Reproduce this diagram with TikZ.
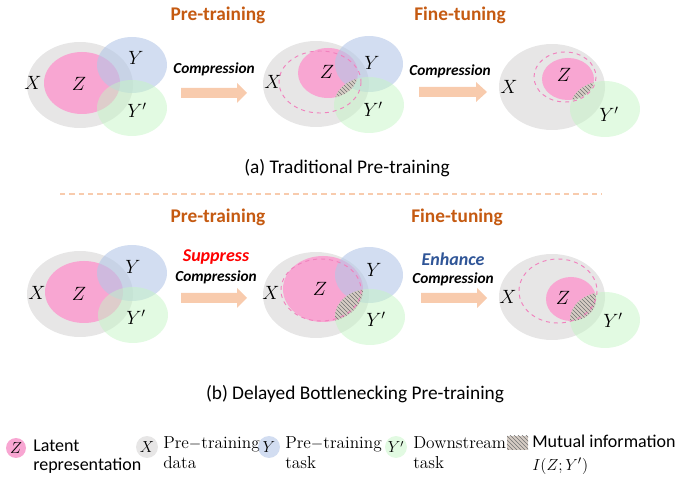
\documentclass[tikz,border=0pt]{standalone}
\usepackage{fontspec}
\newfontfamily\cali{Carlito}
\usetikzlibrary{patterns}
\definecolor{xgray}{RGB}{231,230,230}
\definecolor{zpink}{RGB}{248,166,210}
\definecolor{yblue}{RGB}{180,199,231}
\definecolor{ypgreen}{RGB}{197,245,197}
\definecolor{phase}{RGB}{197,90,17}
\definecolor{peach}{RGB}{248,203,173}
\definecolor{mifill}{RGB}{214,204,196}
\definecolor{enh}{RGB}{47,85,151}
\definecolor{shrinkpink}{RGB}{241,130,190}

\begin{document}
\begin{tikzpicture}[x=0.75pt,y=-0.75pt,
    xset/.style={fill=xgray},
    zset/.style={fill=zpink},
    yset/.style={fill=yblue,fill opacity=0.6},
    ypset/.style={fill=ypgreen,fill opacity=0.5},
    mi/.style={fill=mifill,postaction={pattern=north west lines,pattern color=black!55}},
    shrink/.style={draw=shrinkpink,dashed,line width=0.7pt},
    lbl/.style={font=\fontsize{14}{16}\selectfont,inner sep=0pt},
    phasetxt/.style={font=\cali\bfseries\fontsize{14.5}{17}\selectfont,text=phase,anchor=base},
    comptxt/.style={font=\cali\bfseries\itshape\fontsize{11.5}{13}\selectfont,anchor=base},
    modetxt/.style={font=\cali\bfseries\itshape\fontsize{13.5}{16}\selectfont,anchor=base},
    captxt/.style={font=\cali\fontsize{14.5}{17}\selectfont,anchor=base},
    legsans/.style={font=\cali\fontsize{13.5}{16}\selectfont,anchor=base west,inner sep=0pt},
    legserif/.style={font=\fontsize{13}{16}\selectfont,anchor=base west,inner sep=0pt},
    legsym/.style={font=\fontsize{12}{14}\selectfont,inner sep=0pt},
    blockarrow/.style={fill=peach}]
    \useasboundingbox (0,0) rectangle (676,481);
    % (a) traditional pre-training
    \coordinate(X1) at (80,85);  \coordinate(Z1) at (82,83);
    \coordinate(Y1) at (132,65); \coordinate(P1) at (132,108);
    \fill[xset](X1) ellipse [x radius=53,y radius=43];
    \fill[zset](Z1) ellipse [x radius=38,y radius=31];
    \fill[yset](Y1) ellipse [x radius=35,y radius=28];
    \fill[ypset](P1) ellipse [x radius=35,y radius=28];
    \node[lbl](x1) at (33,83) {$X$};
    \node[lbl](z1) at (79,84) {$Z$};
    \node[lbl](y1) at (136,58) {$Y$};
    \node[lbl](p1) at (137,110) {$Y'$};

    \coordinate(X2) at (316,84);  \coordinate(Z2) at (328,73);
    \coordinate(Y2) at (369,64);  \coordinate(P2) at (369,105);
    \fill[xset](X2) ellipse [x radius=53,y radius=43];
    \fill[zset](Z2) ellipse [x radius=30,y radius=25];
    \fill[yset](Y2) ellipse [x radius=34,y radius=28];
    \fill[ypset](P2) ellipse [x radius=35,y radius=28];
    \begin{scope}\clip(Z2) ellipse [x radius=30,y radius=25];
    \fill[mi](P2) ellipse [x radius=35,y radius=28];
    \end{scope}
    \draw[shrink](320,82) ellipse [x radius=41,y radius=31];
    \node[lbl](x2) at (273,82) {$X$};
    \node[lbl](z2) at (327,72) {$Z$};
    \node[lbl](y2) at (372,63) {$Y$};
    \node[lbl](p2) at (373,109) {$Y'$};

    \coordinate(X3) at (552,87);  \coordinate(Z3) at (568,79);
    \coordinate(P3) at (605,109);
    \fill[xset](X3) ellipse [x radius=53,y radius=43];
    \fill[zset](Z3) ellipse [x radius=26,y radius=21];
    \fill[ypset](P3) ellipse [x radius=35,y radius=28];
    \begin{scope}\clip(Z3) ellipse [x radius=26,y radius=21];
    \fill[mi](P3) ellipse [x radius=35,y radius=28];
    \end{scope}
    \draw[shrink](565,77) ellipse [x radius=31,y radius=25];
    \node[lbl](x3) at (509,87) {$X$};
    \node[lbl](z3) at (564,75) {$Z$};
    \node[lbl](p3) at (609,114) {$Y'$};

    \node[phasetxt](pre1) at (218,21) {Pre-training};
    \node[phasetxt](fine1) at (460,21) {Fine-tuning};
    \node[comptxt](c1) at (214,74) {Compression};
    \node[comptxt](c2) at (450,76) {Compression};
    \fill[blockarrow](181,88)--(237,88)--(237,83)--(247,93)--(237,103)--(237,98)--(181,98)--cycle;
    \fill[blockarrow](419,87)--(476,87)--(476,82)--(487,92)--(476,102)--(476,97)--(419,97)--cycle;
    \node[captxt](capa) at (347,174) {(a) Traditional Pre-training};

    \draw[peach,line width=0.8pt,dash pattern=on 4pt off 3pt](60,194)--(602,194);

    % (b) delayed bottlenecking
    \coordinate(X4) at (80,294);  \coordinate(Z4) at (84,292);
    \coordinate(Y4) at (132,273); \coordinate(P4) at (133,315);
    \fill[xset](X4) ellipse [x radius=53,y radius=43];
    \fill[zset](Z4) ellipse [x radius=39,y radius=31];
    \fill[yset](Y4) ellipse [x radius=35,y radius=28];
    \fill[ypset](P4) ellipse [x radius=35,y radius=28];
    \node[lbl](x4) at (37,293) {$X$};
    \node[lbl](z4) at (79,294) {$Z$};
    \node[lbl](y4) at (133,267) {$Y$};
    \node[lbl](p4) at (136,317) {$Y'$};

    \coordinate(X5) at (316,295);  \coordinate(Z5) at (323,289);
    \coordinate(Y5) at (369,275);  \coordinate(P5) at (370,317);
    \fill[xset](X5) ellipse [x radius=53,y radius=43];
    \fill[zset](Z5) ellipse [x radius=40,y radius=33];
    \fill[yset](Y5) ellipse [x radius=34,y radius=28];
    \fill[ypset](P5) ellipse [x radius=35,y radius=28];
    \begin{scope}\clip(Z5) ellipse [x radius=40,y radius=33];
    \fill[mi](P5) ellipse [x radius=35,y radius=28];
    \end{scope}
    \draw[shrink](321,290) ellipse [x radius=40,y radius=31];
    \node[lbl](x5) at (271,293) {$X$};
    \node[lbl](z5) at (320,289) {$Z$};
    \node[lbl](y5) at (374,270) {$Y$};
    \node[lbl](p5) at (376,319) {$Y'$};

    \coordinate(X6) at (552,297);  \coordinate(Z6) at (571,299);
    \coordinate(P6) at (605,320);
    \fill[xset](X6) ellipse [x radius=53,y radius=43];
    \fill[zset](Z6) ellipse [x radius=25,y radius=22];
    \fill[ypset](P6) ellipse [x radius=35,y radius=28];
    \begin{scope}\clip(Z6) ellipse [x radius=25,y radius=22];
    \fill[mi](P6) ellipse [x radius=35,y radius=28];
    \end{scope}
    \draw[shrink](558,291) ellipse [x radius=39,y radius=32];
    \node[lbl](x6) at (508,297) {$X$};
    \node[lbl](z6) at (563,298) {$Z$};
    \node[lbl](p6) at (613,320) {$Y'$};

    \node[phasetxt](pre2) at (218,223) {Pre-training};
    \node[phasetxt](fine2) at (457,223) {Fine-tuning};
    \node[modetxt,text=red](sup) at (216,262) {Suppress};
    \node[comptxt](c3) at (216,282) {Compression};
    \node[modetxt,text=enh](enhc) at (453,266) {Enhance};
    \node[comptxt](c4) at (453,284) {Compression};
    \fill[blockarrow](181,293)--(237,293)--(237,288)--(247,298)--(237,308)--(237,303)--(181,303)--cycle;
    \fill[blockarrow](421,293)--(477,293)--(477,288)--(487,298)--(477,308)--(477,303)--(421,303)--cycle;
    \node[captxt](capb) at (355,400) {(b) Delayed Bottlenecking Pre-training};

    % legend
    \fill[zset](16,448) circle (10);
    \node[legsym](lz) at (16,448) {$Z$};
    \node[legsans](lz1) at (33,452) {Latent};
    \node[legsans](lz2) at (33,470) {representation};
    \fill[xset](147,447) circle (11);
    \node[legsym](lx) at (147,447) {$X$};
    \node[legserif](lx1) at (163,449) {Pre$-$training};
    \node[legserif](lx2) at (163,469) {data};
    \fill[yset](269,447) circle (11);
    \node[legsym](ly) at (269,447) {$Y$};
    \node[legserif](ly1) at (285,449) {Pre$-$training};
    \node[legserif](ly2) at (285,469) {task};
    \fill[ypset](396,447) circle (11);
    \node[legsym](lp) at (396,447) {$Y'$};
    \node[legserif](lp1) at (413,449) {Downstream};
    \node[legserif](lp2) at (413,469) {task};
    \fill[mi](507,436) rectangle (528,450);
    \node[legsans](lm1) at (532,448) {Mutual information};
    \node[legserif](lm2) at (532,470) {$I(Z;Y')$};
\end{tikzpicture}
\end{document}
